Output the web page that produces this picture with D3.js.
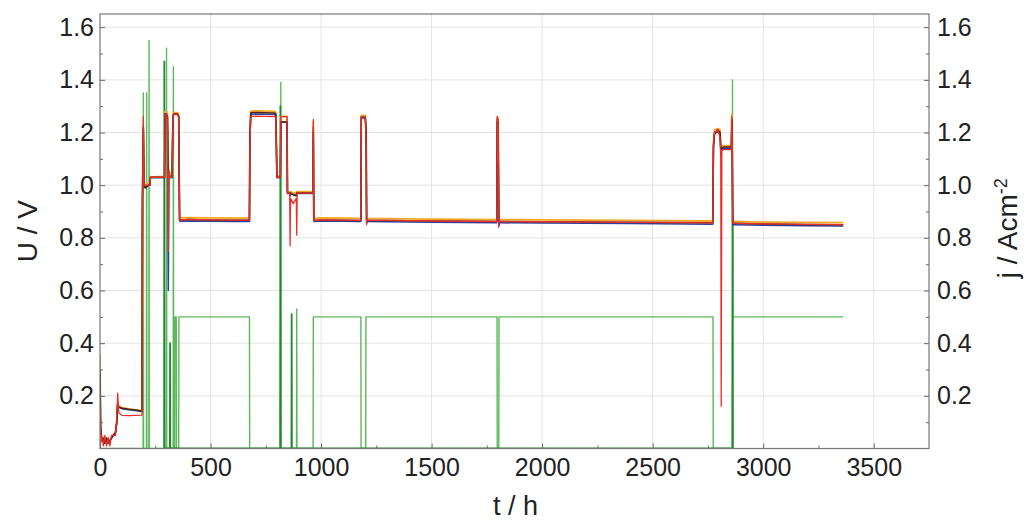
<!DOCTYPE html>
<html>
<head>
<meta charset="utf-8">
<script src="https://cdn.jsdelivr.net/npm/d3@7/dist/d3.min.js"></script>
<style>
  html, body { margin: 0; padding: 0; background: #fff; }
  svg { display: block; }
  text { font-family: "Liberation Sans", Arial, sans-serif; fill: #222; }
</style>
</head>
<body>
<svg id="chart" width="1033" height="523"></svg>
<script>
// ---------- DATA ----------
const xTicks = [0, 500, 1000, 1500, 2000, 2500, 3000, 3500];
const yTicks = [0.2, 0.4, 0.6, 0.8, 1.0, 1.2, 1.4, 1.6];

// time points for the cell voltages (h)
const tU = [
  0, 3, 8, 15, 22, 30, 38, 45, 52, 60,
  70, 76, 80, 85, 100, 130, 160, 190, 192, 196,
  199, 205, 220, 226, 228, 260, 292, 294, 300, 305,
  309, 312, 316, 320, 326, 330, 334, 350, 356, 360,
  362, 400, 500, 600, 676, 678, 682, 700, 790, 795,
  798, 800, 816, 818, 840, 846, 848, 858, 860, 862,
  874, 888, 890, 892, 950, 963, 965, 967, 970, 1000,
  1100, 1180, 1182, 1200, 1204, 1206, 1208, 1212, 1300, 1500,
  1795, 1797, 1801, 1804, 1806, 1810, 2000, 2400, 2772, 2775,
  2780, 2795, 2805, 2808, 2810, 2813, 2820, 2856, 2858, 2860,
  2862, 2870, 3000, 3200, 3362
];
const uOrange = [
  0.36, 0.06, 0.03, 0.04, 0.03, 0.04, 0.03, 0.03, 0.04, 0.05,
  0.06, 0.10, 0.17, 0.16, 0.155, 0.15, 0.147, 0.143, 0.88, 1.20,
  1.00, 1.00, 1.01, 1.01, 1.03, 1.032, 1.032, 1.28, 1.28, 1.27,
  1.05, 1.06, 1.04, 1.035, 1.035, 1.27, 1.275, 1.275, 1.27, 0.875,
  0.876, 0.877, 0.876, 0.875, 0.875, 1.19, 1.28, 1.282, 1.28, 1.276,
  1.16, 1.035, 1.035, 1.26, 1.262, 1.26, 0.975, 0.975, 0.97, 0.975,
  0.972, 0.97, 0.975, 0.975, 0.975, 0.975, 1.24, 0.876, 0.874, 0.876,
  0.875, 0.874, 1.265, 1.265, 1.22, 0.87, 0.873, 0.873, 0.873, 0.871,
  0.869, 1.26, 1.25, 0.86, 0.869, 0.869, 0.868, 0.866, 0.864, 1.16,
  1.21, 1.215, 1.21, 1.15, 1.148, 1.148, 1.15, 1.15, 1.27, 1.16,
  0.862, 0.862, 0.86, 0.859, 0.858
];
const uBlue = [
  0.28, 0.06, 0.03, 0.03, 0.02, 0.03, 0.02, 0.03, 0.04, 0.05,
  0.06, 0.10, 0.17, 0.156, 0.151, 0.147, 0.144, 0.14, 0.95, 1.22,
  1.00, 0.99, 1.00, 1.00, 1.028, 1.028, 1.028, 1.27, 1.27, 1.26,
  0.60, 1.04, 1.03, 1.028, 1.028, 1.26, 1.27, 1.27, 1.26, 0.865,
  0.863, 0.864, 0.863, 0.862, 0.862, 1.17, 1.268, 1.27, 1.268, 1.265,
  1.15, 1.028, 1.028, 1.24, 1.24, 1.24, 0.968, 0.968, 0.96, 0.968,
  0.963, 0.96, 0.968, 0.968, 0.968, 0.968, 1.20, 0.865, 0.862, 0.864,
  0.863, 0.862, 1.255, 1.255, 1.20, 0.855, 0.862, 0.862, 0.861, 0.859,
  0.857, 1.24, 1.23, 0.845, 0.857, 0.857, 0.856, 0.854, 0.852, 1.14,
  1.195, 1.205, 1.195, 1.135, 1.135, 1.135, 1.14, 1.14, 1.24, 1.14,
  0.85, 0.85, 0.848, 0.846, 0.845
];
const uDark = [
  0.30, 0.08, 0.03, 0.04, 0.02, 0.04, 0.02, 0.03, 0.04, 0.05,
  0.06, 0.10, 0.17, 0.158, 0.153, 0.149, 0.146, 0.142, 0.95, 1.22,
  1.00, 0.99, 1.00, 1.00, 1.03, 1.03, 1.03, 1.27, 1.27, 1.26,
  1.04, 1.05, 1.03, 1.03, 1.03, 1.26, 1.27, 1.27, 1.26, 0.87,
  0.868, 0.87, 0.868, 0.867, 0.867, 1.18, 1.275, 1.276, 1.274, 1.27,
  1.15, 1.03, 1.03, 1.24, 1.24, 1.24, 0.97, 0.97, 0.96, 0.97,
  0.965, 0.96, 0.97, 0.97, 0.97, 0.97, 1.22, 0.87, 0.866, 0.868,
  0.867, 0.866, 1.26, 1.26, 1.20, 0.86, 0.866, 0.866, 0.866, 0.864,
  0.862, 1.25, 1.24, 0.85, 0.862, 0.862, 0.861, 0.859, 0.857, 1.15,
  1.20, 1.21, 1.20, 1.14, 1.14, 1.14, 1.145, 1.145, 1.25, 1.15,
  0.855, 0.855, 0.853, 0.851, 0.85
];
const uRed = [
  0.15, 0.02, 0.05, 0.01, 0.05, 0.01, 0.04, 0.01, 0.05, 0.05,
  0.05, 0.12, 0.21, 0.135, 0.126, 0.125, 0.126, 0.127, 0.90, 1.26,
  1.00, 1.00, 1.00, 1.00, 1.03, 1.03, 1.03, 1.27, 1.27, 1.25,
  0.75, 1.05, 1.03, 1.03, 1.03, 1.26, 1.27, 1.27, 1.26, 0.87,
  0.868, 0.87, 0.868, 0.867, 0.867, 1.15, 1.26, 1.262, 1.26, 1.26,
  1.14, 1.03, 1.03, 1.26, 1.26, 1.26, 0.97, 0.97, 0.77, 0.95,
  0.93, 0.95, 0.81, 0.97, 0.97, 0.97, 1.25, 0.87, 0.866, 0.868,
  0.867, 0.866, 1.26, 1.26, 1.15, 0.85, 0.866, 0.866, 0.866, 0.864,
  0.862, 1.26, 1.25, 0.84, 0.862, 0.862, 0.861, 0.859, 0.857, 1.16,
  1.20, 1.21, 1.18, 1.10, 0.16, 1.13, 1.135, 1.135, 1.26, 1.15,
  0.855, 0.855, 0.853, 0.851, 0.85
];

// current density (A cm^-2)
const tJ = [
  0, 195, 196, 197, 210, 211, 212, 221, 222, 223,
  300, 301, 302, 331, 332, 333, 338, 339, 345, 346,
  356, 357, 676, 677, 817, 818, 819, 889, 890, 891,
  964, 965, 1180, 1181, 1202, 1203, 1796, 1797, 1804, 1805,
  2773, 2774, 2860, 2861, 2862, 3362
];
const jLight = [
  0, 0, 1.35, 0, 0, 1.35, 0, 0, 1.55, 0,
  0, 1.52, 0, 0, 1.45, 0, 0, 0.50, 0.50, 0,
  0, 0.50, 0.50, 0, 0, 1.39, 0, 0, 0.53, 0,
  0, 0.50, 0.50, 0, 0, 0.50, 0.50, 0, 0, 0.50,
  0.50, 0, 0, 1.40, 0.50, 0.50
];
const tJd = [289, 290, 291, 292, 316, 317, 318, 815, 816, 817, 866, 867, 868, 2861, 2862, 2863];
const jDark = [0, 0, 1.47, 0, 0, 0.40, 0, 0, 1.30, 0, 0, 0.51, 0, 0, 0.88, 0];

// ---------- LAYOUT ----------
const svg = d3.select("#chart");
const L = 100, T = 14, R = 929, B = 448.5;
const x = d3.scaleLinear().domain([0, 3750]).range([L, R]);
const y = d3.scaleLinear().domain([0, 1.65]).range([B, T]);

svg.append("defs").append("clipPath").attr("id", "clip")
  .append("rect").attr("x", L).attr("y", T).attr("width", R - L).attr("height", B - T - 0.4);

// grid
const grid = svg.append("g").attr("stroke", "#e4e4e4").attr("stroke-width", 1);
xTicks.filter(d => d > 0).forEach(d => {
  grid.append("line").attr("x1", x(d)).attr("x2", x(d)).attr("y1", T).attr("y2", B);
});
yTicks.forEach(d => {
  grid.append("line").attr("x1", L).attr("x2", R).attr("y1", y(d)).attr("y2", y(d));
});

const plot = svg.append("g").attr("clip-path", "url(#clip)");
const lineU = d3.line().x(d => x(d[0])).y(d => y(d[1]));

function draw(ts, vs, color, w) {
  plot.append("path")
    .datum(ts.map((t, i) => [t, vs[i]]))
    .attr("fill", "none").attr("stroke", color)
    .attr("stroke-width", w).attr("stroke-linejoin", "round")
    .attr("d", lineU);
}

draw(tJ, jLight, "#5cb85c", 1.4);
draw(tJd, jDark, "#1f8a2c", 1.8);
draw(tU, uOrange, "#f5a623", 1.8);
draw(tU, uBlue, "#2d3f9e", 1.5);
draw(tU, uDark, "#4a2318", 1.5);
draw(tU, uRed, "#e8302a", 1.3);

// axes
const axisStyle = g => {
  g.select(".domain").remove();
  g.selectAll(".tick line").attr("stroke", "#666");
  g.selectAll(".tick text").style("font-size", "25px").attr("fill", "#222");
};

const xMinor = d3.range(250, 3750, 500);
const yMinor = d3.range(0.1, 1.65, 0.2);

svg.append("g").attr("transform", `translate(0,${B})`)
  .call(d3.axisBottom(x).tickValues(xTicks).tickFormat(d3.format("d")).tickSize(-5).tickPadding(10))
  .call(axisStyle);
svg.append("g").attr("transform", `translate(0,${B})`)
  .call(d3.axisBottom(x).tickValues(xMinor).tickFormat("").tickSize(-3))
  .call(axisStyle);

svg.append("g").attr("transform", `translate(${L},0)`)
  .call(d3.axisLeft(y).tickValues(yTicks).tickFormat(d3.format(".1f")).tickSize(-5).tickPadding(6))
  .call(axisStyle);
svg.append("g").attr("transform", `translate(${L},0)`)
  .call(d3.axisLeft(y).tickValues(yMinor).tickFormat("").tickSize(-3))
  .call(axisStyle);

svg.append("g").attr("transform", `translate(${R},0)`)
  .call(d3.axisRight(y).tickValues(yTicks).tickFormat(d3.format(".1f")).tickSize(-5).tickPadding(8))
  .call(axisStyle);
svg.append("g").attr("transform", `translate(${R},0)`)
  .call(d3.axisRight(y).tickValues(yMinor).tickFormat("").tickSize(-3))
  .call(axisStyle);

// frame
svg.append("rect").attr("x", L).attr("y", T).attr("width", R - L).attr("height", B - T)
  .attr("fill", "none").attr("stroke", "#777").attr("stroke-width", 1.2);

// titles
svg.append("text").attr("x", (L + R) / 2 + 1).attr("y", 515)
  .attr("text-anchor", "middle").style("font-size", "27px").text("t / h");
svg.append("text").attr("transform", `translate(37,${(T + B) / 2}) rotate(-90)`)
  .attr("text-anchor", "middle").style("font-size", "28px").text("U / V");
const jt = svg.append("text").attr("transform", `translate(1017,${(T + B) / 2 - 3}) rotate(-90)`)
  .attr("text-anchor", "middle").style("font-size", "28px");
jt.append("tspan").text("j / Acm");
jt.append("tspan").attr("dy", "-0.55em").style("font-size", "18px").text("-2");
</script>
</body>
</html>
